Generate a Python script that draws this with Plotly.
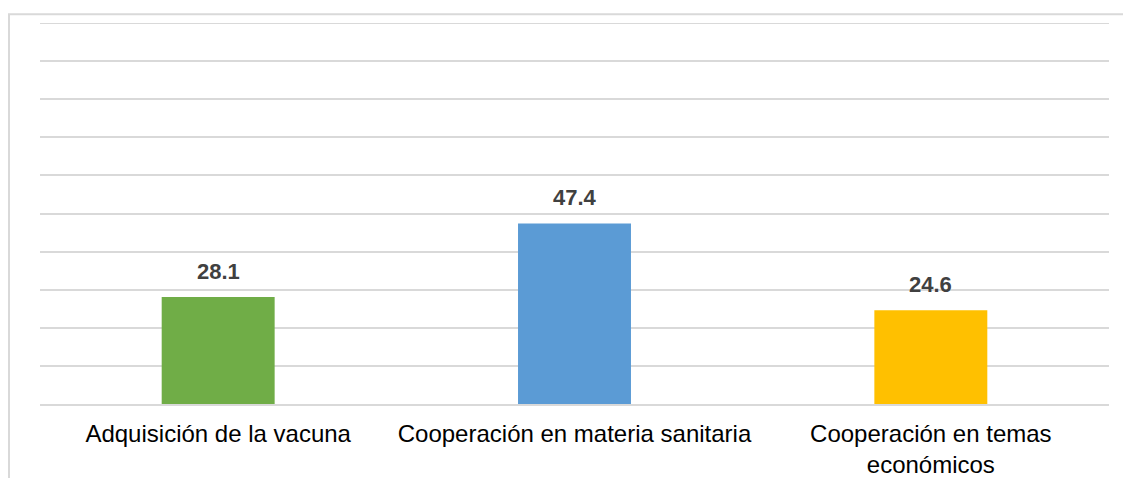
import plotly.graph_objects as go

categories = ["Adquisición de la vacuna", "Cooperación en materia sanitaria", "Cooperación en temas<br>económicos"]
values = [28.1, 47.4, 24.6]
colors = ["#70AD47", "#5B9BD5", "#FFC000"]
labels = ["28.1", "47.4", "24.6"]
y_max = 100

fig = go.Figure()
fig.add_trace(go.Bar(x=categories, y=values, marker=dict(color=colors, line=dict(width=0)),
                     hoverinfo="skip"))

for c, v, t in zip(categories, values, labels):
    fig.add_annotation(x=c, y=v, text="<b>" + t + "</b>", showarrow=False,
                       yanchor="bottom", yshift=11,
                       font=dict(family="Liberation Sans, Arial", size=22, color="#404040"))

fig.update_layout(
    width=1123, height=478,
    margin=dict(l=40, r=14, t=23, b=74, autoexpand=False),
    paper_bgcolor="white", plot_bgcolor="white",
    showlegend=False,
    bargap=0.683,
    font=dict(family="Liberation Sans, Arial", color="#000000"),
    shapes=[dict(type="rect", xref="paper", yref="paper", x0=-0.0290, x1=1.2, y0=-0.4, y1=1.0228,
                 line=dict(color="#d9d9d9", width=2), fillcolor="rgba(0,0,0,0)", layer="below"),
            dict(type="line", xref="paper", yref="y", x0=0, x1=1, y0=y_max, y1=y_max,
                 line=dict(color="#d9d9d9", width=2), layer="below")],
)
fig.update_xaxes(showline=True, linecolor="#d9d9d9", linewidth=2, ticks="outside", ticklen=7,
                 tickcolor="white", tickfont=dict(size=24, color="#000000"), showgrid=False)
fig.update_yaxes(range=[0, y_max], tickvals=[10, 20, 30, 40, 50, 60, 70, 80, 90],
                 showticklabels=False, showgrid=True,
                 gridcolor="#d9d9d9", gridwidth=2, zeroline=False)

fig.write_html("out.html", config={"displayModeBar": False},
               post_script="document.body.style.margin='0';document.body.style.padding='0';")
